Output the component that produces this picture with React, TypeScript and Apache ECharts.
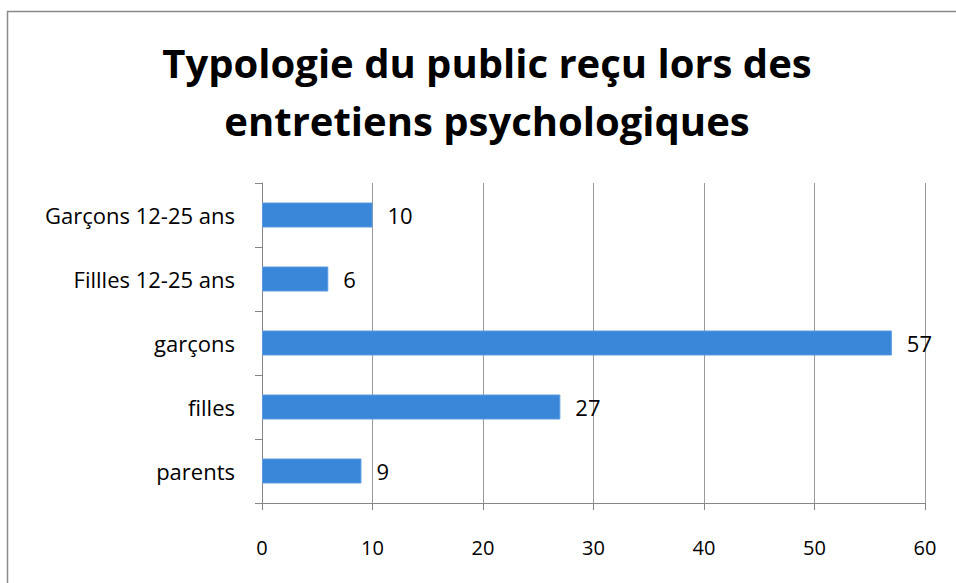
import React, { useEffect, useRef } from "react";
import * as echarts from "echarts";

const categories = ["Garçons 12-25 ans", "Fillles 12-25 ans", "garçons", "filles", "parents"];
const values = [10, 6, 57, 27, 9];
const titleLines = ["Typologie du public reçu lors des", "entretiens psychologiques"];

const FONT = "'Open Sans', 'Noto Sans', sans-serif";

export default function App() {
  const ref = useRef<HTMLDivElement>(null);
  useEffect(() => {
    if (!ref.current) return;
    const chart = echarts.init(ref.current, null, { renderer: "svg" });
    chart.setOption({
      animation: false,
      backgroundColor: "#ffffff",
      graphic: [
        {
          type: "rect",
          shape: { x: 7.5, y: 11.5, width: 1000, height: 1000 },
          style: { fill: "none", stroke: "#8a8a8a", lineWidth: 1.5 },
          silent: true,
        },
        {
          type: "text",
          x: 487,
          y: 62,
          style: {
            text: titleLines[0],
            align: "center",
            verticalAlign: "middle",
            fontFamily: FONT,
            fontWeight: "bold",
            fontSize: 40,
            fill: "#000000",
          },
        },
        {
          type: "text",
          x: 487,
          y: 120,
          style: {
            text: titleLines[1],
            align: "center",
            verticalAlign: "middle",
            fontFamily: FONT,
            fontWeight: "bold",
            fontSize: 40,
            fill: "#000000",
          },
        },
      ],
      grid: { left: 262, right: 31, top: 183, bottom: 80, containLabel: false },
      xAxis: {
        type: "value",
        min: 0,
        max: 60,
        interval: 10,
        axisLine: { show: true, lineStyle: { color: "#868686", width: 1 } },
        axisTick: { show: true, length: 7, lineStyle: { color: "#868686" } },
        axisLabel: { color: "#000000", fontFamily: FONT, fontSize: 20, margin: 34 },
        splitLine: { show: true, lineStyle: { color: "#999999", width: 1 } },
      },
      yAxis: {
        type: "category",
        data: categories,
        inverse: true,
        axisLine: { show: true, lineStyle: { color: "#868686", width: 1 } },
        axisTick: { show: true, length: 7, alignWithLabel: false, lineStyle: { color: "#868686" } },
        axisLabel: { color: "#000000", fontFamily: FONT, fontSize: 22, margin: 27 },
        splitLine: { show: false },
      },
      series: [
        {
          type: "bar",
          data: values,
          barWidth: 25,
          itemStyle: { color: "#3a87d9", borderColor: "#5a9be0", borderWidth: 1 },
          label: {
            show: true,
            position: "right",
            distance: 15,
            color: "#000000",
            fontFamily: FONT,
            fontSize: 22,
          },
        },
      ],
    });
    return () => chart.dispose();
  }, []);
  return (
    <div
      ref={ref}
      style={{ position: "absolute", left: 0, top: 0, width: 956, height: 583 }}
    />
  );
}
